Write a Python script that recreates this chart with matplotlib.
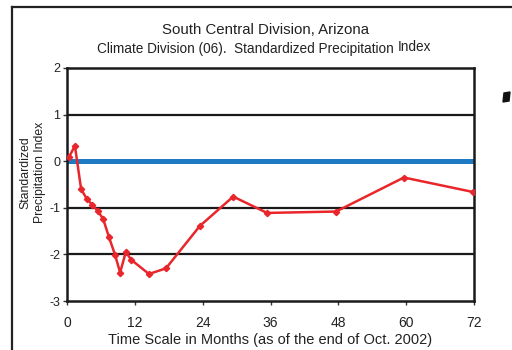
import matplotlib.pyplot as plt
from matplotlib.lines import Line2D
from matplotlib.patches import Polygon

plt.rcParams['font.family'] = ['Liberation Sans', 'DejaVu Sans']
plt.rcParams['axes.unicode_minus'] = False

# SPI values for each time scale (months back from end of Oct. 2002)
months = [0.35, 1.4, 2.5, 3.5, 4.5, 5.4, 6.4, 7.4, 8.5, 9.4,
          10.4, 11.4, 14.5, 17.5, 23.5, 29.4, 35.4, 47.6, 59.6, 71.8]
spi = [0.09, 0.33, -0.60, -0.81, -0.94, -1.06, -1.24, -1.62, -2.01, -2.39,
       -1.95, -2.12, -2.42, -2.30, -1.39, -0.76, -1.11, -1.08, -0.35, -0.66]

x_ticks = [0, 12, 24, 36, 48, 60, 72]
y_ticks = [-3, -2, -1, 0, 1, 2]

W, H = 512, 350
fig = plt.figure(figsize=(W / 100, H / 100), dpi=100)

# outer page frame
fig.add_artist(Line2D([12 / W, 12 / W], [0, 1 - 7 / H], color='#222222', lw=1.6))
fig.add_artist(Line2D([12 / W, 1], [1 - 7 / H, 1 - 7 / H], color='#222222', lw=1.6))
# small black tick mark at the right margin
fig.add_artist(Polygon([[504 / W, 1 - 93 / H], [510 / W, 1 - 92 / H],
                        [509 / W, 1 - 101 / H], [503 / W, 1 - 102 / H]],
                       closed=True, color='#111111', transform=fig.transFigure))

ax = fig.add_axes([67 / W, 1 - 301 / H, 407 / W, 233 / H])

for y in [1, -1, -2]:
    ax.axhline(y, color='#1a1a1a', lw=1.6, zorder=1)
ax.axhline(0, color='#1f7ac4', lw=3.6, zorder=2)

ax.plot(months, spi, color='#e8262b', lw=1.8, marker='D', ms=3.2,
        mec='#e8262b', mfc='#e8262b', zorder=3)

ax.set_xlim(0, 72)
ax.set_ylim(-3, 2)
ax.set_xticks(x_ticks)
ax.set_yticks(y_ticks)
ax.tick_params(direction='out', length=3, width=1,
               color='#333333', labelcolor='#222222')
ax.tick_params(axis='x', pad=8, labelsize=10)
ax.tick_params(axis='y', pad=2, labelsize=9)
for side in ax.spines.values():
    side.set_linewidth(1.8)
    side.set_color('#1a1a1a')

ax.set_xlabel('Time Scale in Months (as of the end of Oct. 2002)', fontsize=10.5,
              labelpad=2, color='#222222')
ax.set_ylabel('Standardized\nPrecipitation Index', fontsize=8.8,
              linespacing=1.25, color='#222222')
ax.yaxis.set_label_coords(-0.052, 0.55)

fig.text(265 / W, 1 - 30 / H, 'South Central Division, Arizona',
         ha='center', va='center', fontsize=10.8, color='#222222')
fig.text(97 / W, 1 - 49 / H, 'Climate Division (06).  Standardized Precipitation',
         ha='left', va='center', fontsize=9.8, color='#222222')
fig.text(398 / W, 1 - 47 / H, 'Index',
         ha='left', va='center', fontsize=9.8, color='#222222')

fig.savefig('out.png', dpi=100)
